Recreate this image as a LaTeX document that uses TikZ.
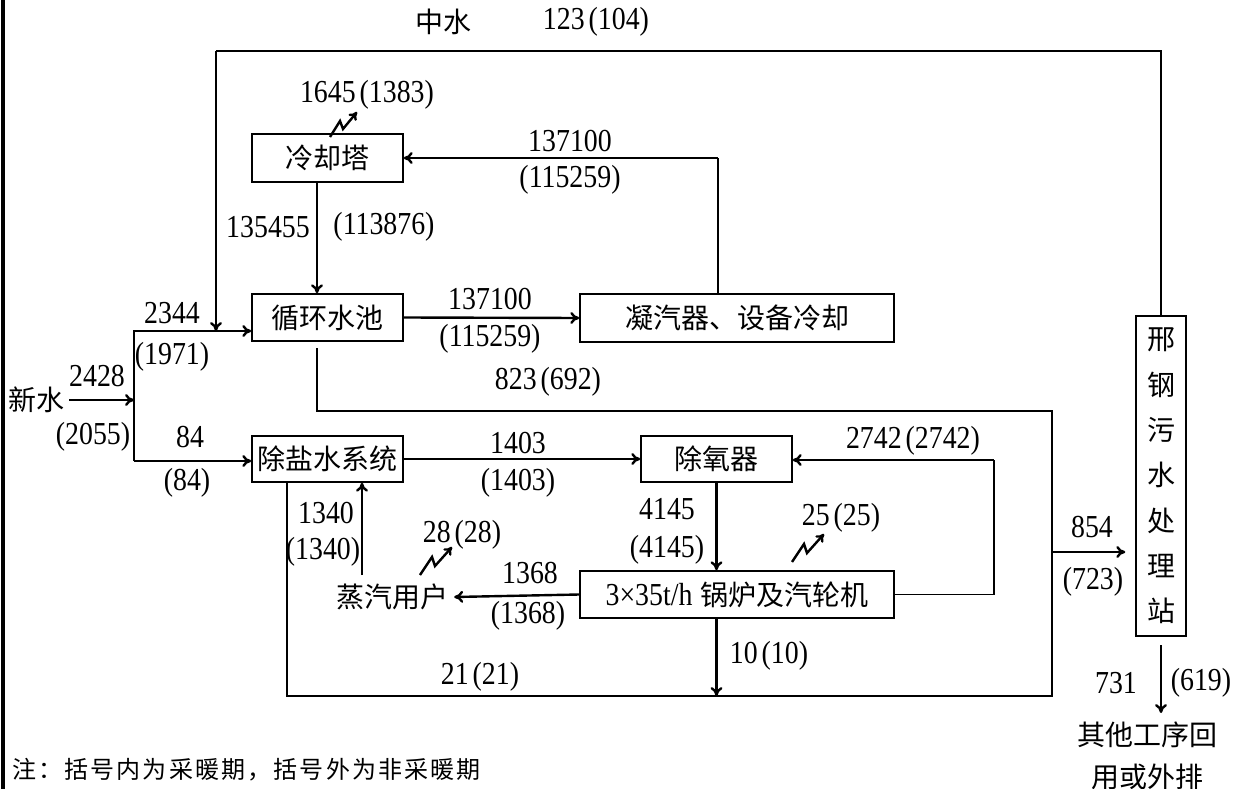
\documentclass[tikz,border=0pt]{standalone}
\usepackage{fontspec}
\setmainfont{Liberation Serif}
\newfontfamily\cjkf{Noto Sans CJK SC}
\newfontfamily\numf[FakeStretch=0.87]{Liberation Serif}
\usetikzlibrary{arrows.meta}
\newcommand\pk{\kern4pt}
\tikzset{
  box/.style={draw, line width=1.5pt, inner sep=0pt, minimum height=47pt, font=\cjkf\fontsize{28}{30}\selectfont},
  num/.style={inner sep=0pt, font=\numf\fontsize{32}{34}\selectfont},
  cj/.style={inner sep=0pt, font=\cjkf\fontsize{28}{30}\selectfont},
  flow/.style={line width=2.4pt, -{To[length=9pt,width=12pt]}},
  thinline/.style={line width=1.5pt},
  zig/.style={line width=2.4pt, -{To[length=8pt,width=10pt]}}
}
\begin{document}
\begin{tikzpicture}[x=1pt,y=-1pt]
\useasboundingbox (0,0) rectangle (1235,789);
\draw[line width=3.5pt] (3,0) -- (3,789);

% boxes
\node[box, minimum width=151pt, minimum height=48pt] (ct) at (327.5,158) {冷却塔};
\node[box, minimum width=151pt] (pool) at (327.5,317.5) {循环水池};
\node[box, minimum width=314pt, minimum height=48pt] (cond) at (737,318) {凝汽器、设备冷却};
\node[box, minimum width=151pt, minimum height=46pt] (desalt) at (327.5,459) {除盐水系统};
\node[box, minimum width=151pt, minimum height=46pt] (deox) at (716.5,459) {除氧器};
\node[box, minimum width=314pt] (boiler) at (737,594.5) {{\numf\fontsize{32}{34}\selectfont 3×35t/h}\kern8pt 锅炉及汽轮机};
\node[box, minimum width=50pt, minimum height=320pt, align=center, font=\cjkf\fontsize{28}{45.3}\selectfont] (sew) at (1161,476) {邢\\钢\\污\\水\\处\\理\\站};
\node[cj, inner sep=6pt] (steam) at (392,597) {蒸汽用户};
\node[cj, inner sep=4pt] (xs) at (37,400) {新水};
\node[cj, align=center, font=\cjkf\fontsize{28}{42}\selectfont] (other) at (1147,756) {其他工序回\\用或外排};

% coordinates
\coordinate (tl) at (216,51);
\coordinate (tr) at (1161,51);
\coordinate (sp1) at (134,331);
\coordinate (sp2) at (134,461);
\coordinate (spm) at (134,400);
\coordinate (pg) at (317,348);
\coordinate (pl) at (317,411);
\coordinate (tr2) at (1052,411);
\coordinate (br) at (1052,696);
\coordinate (bl) at (287,696);
\coordinate (c1) at (718,158);
\coordinate (r1) at (994,460);
\coordinate (s1) at (362,575);
\coordinate (e1) at (1052,552);
\coordinate (o1) at (1161,645);
\coordinate (o2) at (1161,713);
\coordinate (z1) at (330,137);
\coordinate (z2) at (792,562);
\coordinate (z3) at (420,575);

% connectors
\draw[thinline] (sew.north) -- (tr) -- (tl);
\draw[flow] (tl) -- (tl |- sp1);
\draw[flow] (xs.east) -- (spm);
\draw[flow] (sp2) -- (sp1) -- (sp1 -| pool.west);
\draw[flow] (sp2) -- (sp2 -| desalt.west);
\draw[flow] (ct.south -| pg) -- (pool.north -| pg);
\draw[thinline] (cond.north -| c1) -- (c1);
\draw[flow] (c1) -- (c1 -| ct.east);
\draw[flow] (pool.east) -- (cond.west);
\draw[thinline] (pg) -- (pl) -- (tr2) -- (br) -- (bl) -- (bl |- desalt.south);
\draw[flow] (desalt.east) -- (desalt.east -| deox.west);
\draw[thinline] (boiler.east) -- (boiler.east -| r1) -- (r1);
\draw[flow] (r1) -- (r1 -| deox.east);
\draw[flow] (deox.south) -- (deox.south |- boiler.north);
\draw[flow] (boiler.west) -- (steam.east);
\draw[flow] (s1) -- (s1 |- desalt.south);
\draw[flow] (boiler.south -| deox.south) -- (deox.south |- br);
\draw[flow] (e1) -- ([xshift=-10pt]e1 -| sew.west);
\draw[flow] (o1) -- (o2);
\draw[zig] (z1) -- ++(10,-16) -- ++(3,8) -- ++(14,-17);
\draw[zig] (z2) -- ++(12,-18) -- ++(3,9) -- ++(17,-19);
\draw[zig] (z3) -- ++(12,-18) -- ++(3,9) -- ++(17,-19);

% labels
\node[cj] (lzs) at (443,22) {中水};
\node[num] (l1) at (596,22) {123\pk(104)};
\node[num] (l2) at (367,95) {1645\pk(1383)};
\node[num] (l3) at (570,141) {137100};
\node[num] (l4) at (570,180) {(115259)};
\node[num] (l5) at (268,227) {135455};
\node[num] (l6) at (384,227) {(113876)};
\node[num] (l7) at (172,313) {2344};
\node[num] (l8) at (172,357) {(1971)};
\node[num] (l9) at (97,376) {2428};
\node[num] (l10) at (93,437) {(2055)};
\node[num] (l11) at (190,437) {84};
\node[num] (l12) at (187,483) {(84)};
\node[num] (l13) at (490,299) {137100};
\node[num] (l14) at (490,339) {(115259)};
\node[num] (l15) at (548,382) {823\pk(692)};
\node[num] (l16) at (518,443) {1403};
\node[num] (l17) at (518,483) {(1403)};
\node[num] (l18) at (913,441) {2742\pk(2742)};
\node[num] (l19) at (667,509) {4145};
\node[num] (l20) at (667,550) {(4145)};
\node[num] (l21) at (841,518) {25\pk(25)};
\node[num] (l22) at (462,535) {28\pk(28)};
\node[num] (l23) at (530,573) {1368};
\node[num] (l24) at (528,616) {(1368)};
\node[num] (l25) at (326,513) {1340};
\node[num] (l26) at (323,552) {(1340)};
\node[num] (l27) at (769,656) {10\pk(10)};
\node[num] (l28) at (480,677) {21\pk(21)};
\node[num] (l29) at (1092,527) {854};
\node[num] (l30) at (1093,582) {(723)};
\node[num] (l31) at (1116,683) {731};
\node[num] (l32) at (1201,683) {(619)};
\node[cj, anchor=west, font=\cjkf\fontsize{24}{28}\selectfont\addfontfeature{LetterSpace=9}] (note) at (12,770) {注：括号内为采暖期，括号外为非采暖期};
\end{tikzpicture}
\end{document}
